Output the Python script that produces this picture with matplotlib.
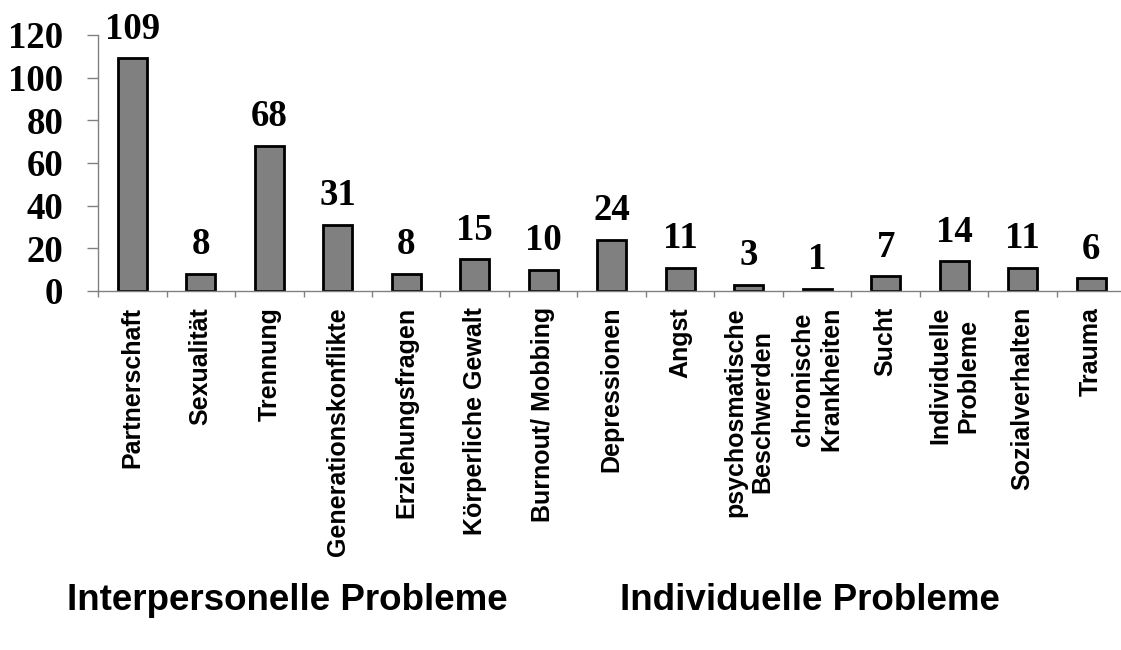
import matplotlib.pyplot as plt
import numpy as np

# Counts per problem category
categories = ['Partnerschaft', 'Sexualität', 'Trennung', 'Generationskonflikte',
              'Erziehungsfragen', 'Körperliche Gewalt', 'Burnout/ Mobbing',
              'Depressionen', 'Angst', 'psychosmatische\nBeschwerden',
              'chronische\nKrankheiten', 'Sucht', 'Individuelle\nProbleme',
              'Sozialverhalten', 'Trauma']
counts = [109, 8, 68, 31, 8, 15, 10, 24, 11, 3, 1, 7, 14, 11, 6]
group_labels = ['Interpersonelle Probleme', 'Individuelle Probleme']

fig = plt.figure(figsize=(11.21, 6.5), dpi=100)
ax = fig.add_axes([98 / 1121, 359 / 650, 1027.5 / 1121, 256 / 650])

x = np.arange(len(categories))
ax.bar(x, counts, width=0.42, color='#808080', edgecolor='black', linewidth=2)

# Value labels above bars
for xi, val in zip(x, counts):
    ax.annotate(str(val), (xi, val), xytext=(0, 14), textcoords='offset points',
                ha='center', va='baseline', fontsize=26.5,
                family='Liberation Serif', weight='bold')

ax.set_xlim(-0.5, len(categories) - 0.5)
ax.set_ylim(0, 120)
ax.set_yticks(range(0, 121, 20))
ax.set_xticks(np.arange(len(categories) + 1) - 0.5)
ax.set_xticklabels([])
ax.set_xticks(x, minor=True)
ax.set_xticklabels(categories, minor=True, rotation=90, ha='center', va='top',
                   multialignment='center')
for lbl in ax.get_xticklabels(minor=True):
    lbl.set_fontsize(18)
    lbl.set_fontfamily('Liberation Sans')
    lbl.set_fontweight('bold')
ax.tick_params(axis='x', which='minor', length=0, pad=11.5)
ax.tick_params(axis='x', which='major', length=4.3, width=1, color='#808080', direction='out')
ax.tick_params(axis='y', length=8, width=1, color='#808080', direction='out', pad=17)
for lbl in ax.get_yticklabels():
    lbl.set_fontsize(26.5)
    lbl.set_fontfamily('Liberation Serif')
    lbl.set_fontweight('bold')

for side in ['top', 'right']:
    ax.spines[side].set_visible(False)
for side in ['left', 'bottom']:
    ax.spines[side].set_color('#808080')
    ax.spines[side].set_linewidth(1)

# Group captions under the chart
fig.text(287 / 1121, 50 / 650, group_labels[0], ha='center', va='center',
         fontsize=26.5, family='Liberation Sans', weight='bold')
fig.text(810 / 1121, 50 / 650, group_labels[1], ha='center', va='center',
         fontsize=26.5, family='Liberation Sans', weight='bold')

fig.savefig('out.png', dpi=100)
